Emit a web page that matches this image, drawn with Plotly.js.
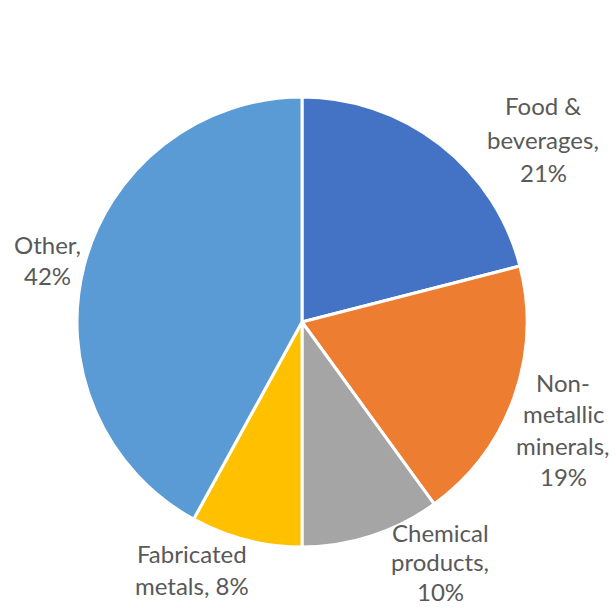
<!DOCTYPE html>
<html>
<head>
<meta charset="utf-8">
<script src="https://cdn.plot.ly/plotly-3.0.1.min.js"></script>
<style>html,body{margin:0;padding:0;background:#fff;}#chart{width:616px;height:608px;}</style>
</head>
<body>
<div id="chart"></div>
<script>
// Data
const categories = ["Food & beverages", "Non-metallic minerals", "Chemical products", "Fabricated metals", "Other"];
const shares = [21, 19, 10, 8, 42];
const colors = ["#4472C4", "#ED7D31", "#A5A5A5", "#FFC000", "#5B9BD5"];
// Label line breaks (text as shown)
const labelLines = [
  ["Food &", "beverages,"],
  ["Non-", "metallic", "minerals,"],
  ["Chemical", "products,"],
  ["Fabricated", "metals, %"],
  ["Other,"]
];

// Label placement (style): center x, first-line center y in pixels, line spacing
const W = 616, H = 608;
const labelPos = [
  {x: 543, y: 106, dy: 33},
  {x: 563, y: 382, dy: 31.5},
  {x: 440, y: 532, dy: 29.5},
  {x: 192, y: 553, dy: 32},
  {x: 47, y: 244, dy: 31}
];

const annotations = [];
categories.forEach((c, i) => {
  let lines = labelLines[i].slice();
  const pct = shares[i] + "%";
  const last = lines[lines.length - 1];
  if (last.indexOf("%") >= 0) {
    lines[lines.length - 1] = last.replace("%", pct);
  } else {
    lines.push(pct);
  }
  lines.forEach((t, k) => {
    const p = labelPos[i];
    annotations.push({
      text: t,
      xref: "paper", yref: "paper",
      x: p.x / W, y: 1 - (p.y + k * p.dy) / H,
      xanchor: "center", yanchor: "middle",
      showarrow: false,
      borderpad: 0,
      font: {family: "Lato, 'Open Sans', sans-serif", size: 24, color: "#595959"}
    });
  });
});

const trace = {
  type: "pie",
  labels: categories,
  values: shares,
  sort: false,
  direction: "clockwise",
  rotation: 0,
  textinfo: "none",
  hoverinfo: "label+percent",
  marker: {colors: colors, line: {color: "#FFFFFF", width: 3}},
  domain: {x: [77 / W, 527 / W], y: [1 - 547 / H, 1 - 97 / H]}
};

const layout = {
  width: W, height: H,
  margin: {l: 0, r: 0, t: 0, b: 0},
  showlegend: false,
  paper_bgcolor: "#FFFFFF",
  annotations: annotations
};

Plotly.newPlot("chart", [trace], layout, {displayModeBar: false, staticPlot: true});
</script>
</body>
</html>
